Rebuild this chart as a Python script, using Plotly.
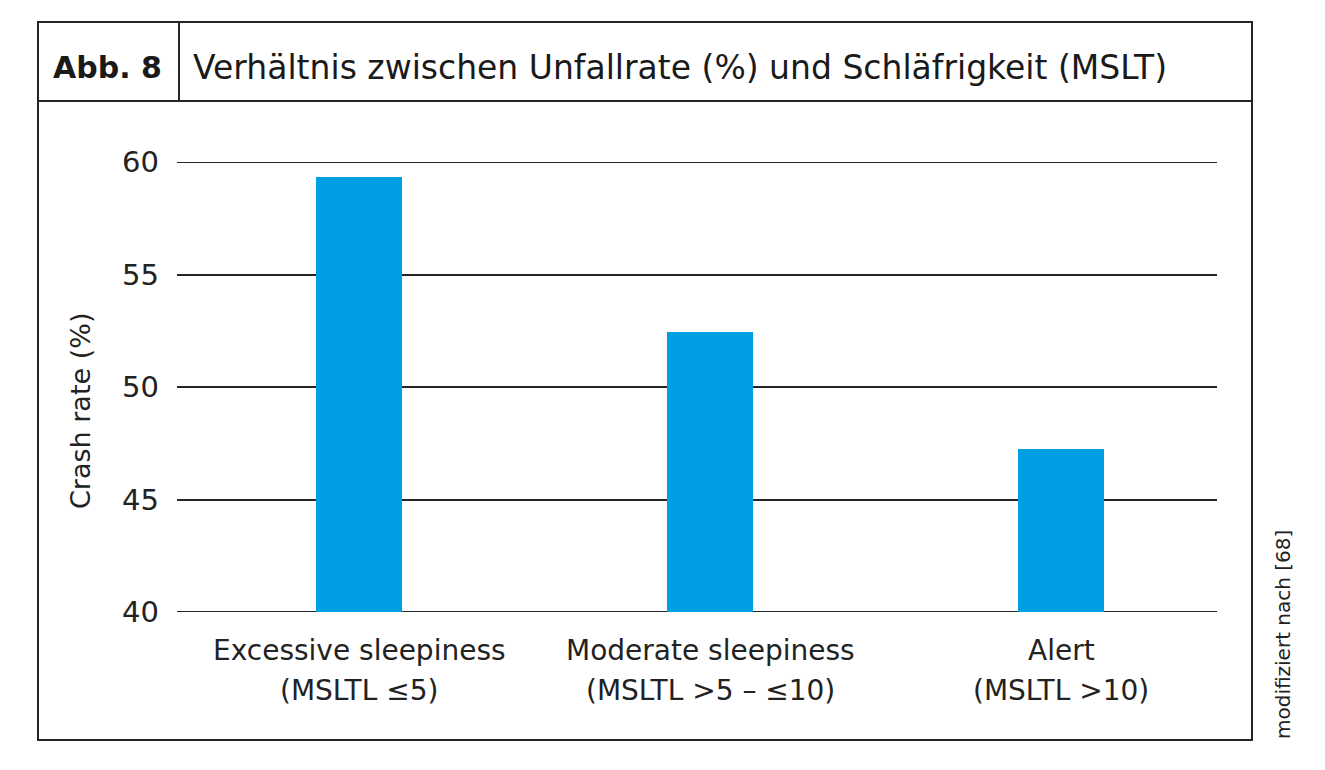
import plotly.graph_objects as go

category_names = ["Excessive sleepiness", "Moderate sleepiness", "Alert"]
category_ranges = ["(MSLTL ≤5)", "(MSLTL >5 – ≤10)", "(MSLTL >10)"]
crash_rate = [59.35, 52.45, 47.25]
y_ticks = [40, 45, 50, 55, 60]

OFF = 8                      # page body margin
FW, FH = 1325 - 2 * OFF, 770 - 2 * OFF
L, R, T, B = 177, 1217, 162, 612   # plot area in screenshot pixels

def px(x):
    return (x - L) / (R - L)

def py(y):
    return (B - y) / (B - T)

FONT = "DejaVu Sans"
xpos = list(range(len(category_names)))

fig = go.Figure()
fig.add_trace(go.Bar(x=xpos, y=crash_rate, width=0.245,
                     marker=dict(color="#009FE3", line=dict(width=0)),
                     hoverinfo="y"))

line_col = "#262626"
shapes = [
    dict(type="rect", xref="paper", yref="paper", x0=px(38), x1=px(1252), y0=py(740), y1=py(22),
         line=dict(color=line_col, width=2)),
    dict(type="line", xref="paper", yref="paper", x0=px(38), x1=px(1252), y0=py(101), y1=py(101),
         line=dict(color=line_col, width=2)),
    dict(type="line", xref="paper", yref="paper", x0=px(179), x1=px(179), y0=py(101), y1=py(22),
         line=dict(color=line_col, width=2)),
]
# edge gridlines (plotly skips gridlines at the range ends)
for yv in (y_ticks[0], y_ticks[-1]):
    shapes.append(dict(type="line", xref="paper", yref="y", x0=0, x1=1, y0=yv, y1=yv,
                       layer="below", line=dict(color=line_col, width=1.8)))

annotations = [
    dict(text="<b>Abb. 8</b>", xref="paper", yref="paper", x=px(107), y=py(67),
         xanchor="center", yanchor="middle", showarrow=False,
         font=dict(size=30, color="#1a1a1a", family=FONT)),
    dict(text="Verhältnis zwischen Unfallrate (%) und Schläfrigkeit (MSLT)", xref="paper", yref="paper",
         x=px(191), y=py(67), xanchor="left", yanchor="middle", showarrow=False,
         font=dict(size=33, color="#1a1a1a", family=FONT)),
    dict(text="Crash rate (%)", xref="paper", yref="paper", x=px(80), y=py(411),
         xanchor="center", yanchor="middle", showarrow=False, textangle=-90,
         font=dict(size=27, color="#222", family=FONT)),
    dict(text="modifiziert nach [68]", xref="paper", yref="paper", x=px(1283), y=py(635),
         xanchor="center", yanchor="middle", showarrow=False, textangle=-90,
         font=dict(size=20, color="#222", family=FONT)),
]
for i, (nm, rg) in enumerate(zip(category_names, category_ranges)):
    annotations.append(dict(text=nm, xref="x", yref="paper", x=xpos[i], y=py(650),
                            xanchor="center", yanchor="middle", showarrow=False,
                            font=dict(size=28, color="#222", family=FONT)))
    annotations.append(dict(text=rg, xref="x", yref="paper", x=xpos[i], y=py(690),
                            xanchor="center", yanchor="middle", showarrow=False,
                            font=dict(size=28, color="#222", family=FONT)))

fig.update_layout(
    width=FW, height=FH,
    margin=dict(l=L - OFF, r=OFF + FW - R, t=T - OFF, b=OFF + FH - B),
    paper_bgcolor="white", plot_bgcolor="white",
    showlegend=False,
    shapes=shapes, annotations=annotations,
    font=dict(family=FONT, color="#222"),
    xaxis=dict(range=[-0.5185, 2.4444], tickvals=xpos, showticklabels=False,
               showgrid=False, zeroline=False, showline=False, ticks="", fixedrange=True),
    yaxis=dict(range=[40, 60], tickvals=y_ticks, showgrid=True, gridcolor=line_col, gridwidth=1.5,
               zeroline=False, showline=False, ticks="", ticklabelstandoff=17,
               tickfont=dict(size=29, color="#222", family=FONT), fixedrange=True),
    bargap=0,
)

fig.write_html("out.html")
